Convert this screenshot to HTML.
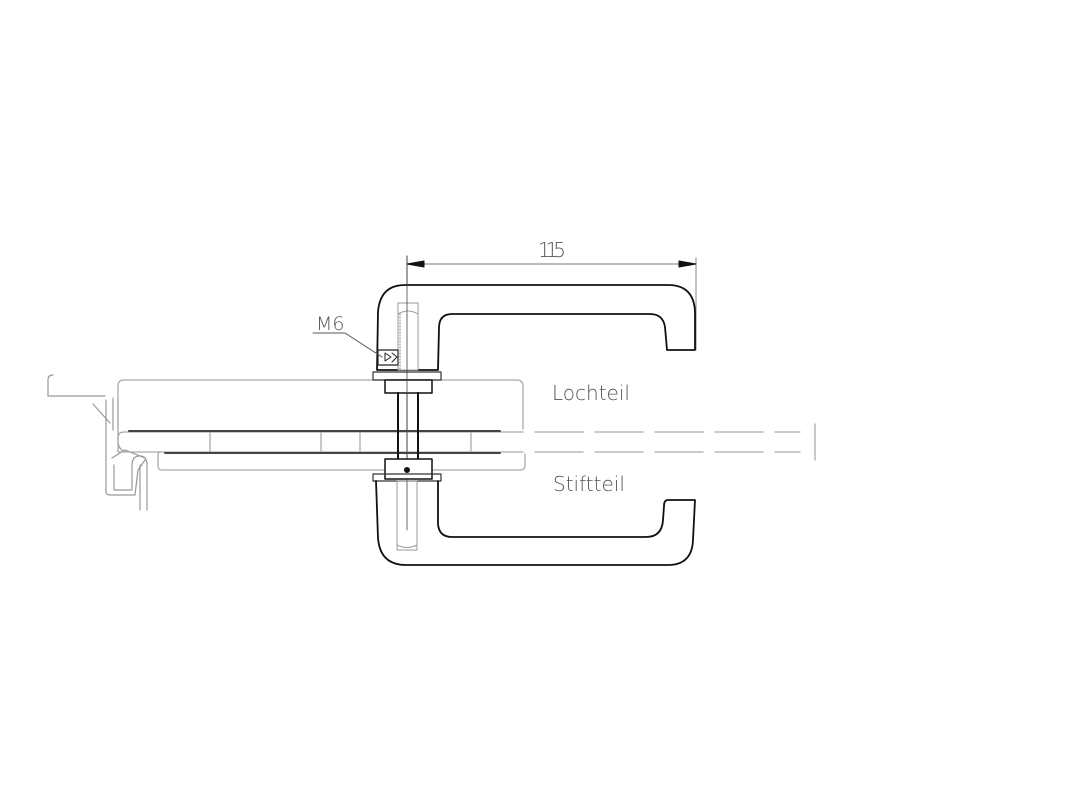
<!DOCTYPE html>
<html><head><style>
html,body{margin:0;padding:0;background:#fff;width:1072px;height:800px;overflow:hidden}
svg{display:block}
text{font-family:"DejaVu Sans","Liberation Sans",sans-serif;font-weight:200;fill:#555}
</style></head><body>
<svg width="1072" height="800" viewBox="0 0 1072 800" xmlns="http://www.w3.org/2000/svg">
<g fill="none" stroke-linecap="round" stroke-linejoin="round">
<line x1="407" y1="256" x2="407" y2="470" stroke="#333" stroke-width="1"/>
<line x1="696" y1="258" x2="696" y2="350" stroke="#888" stroke-width="1"/>
<line x1="407" y1="264" x2="696" y2="264" stroke="#777" stroke-width="1"/>
<path d="M407 264 L424 261 L424 267 Z M696 264 L679 261 L679 267 Z" fill="#111" stroke="#111"/>
<text x="538" y="257" font-size="20" textLength="28">115</text>

<g stroke="#999" stroke-width="1.2">
<path d="M48 396 L48 380 Q48 375 53 375"/>
<path d="M48 396 L105 396"/>
<path d="M113 398 L113 430 M118 398 L118 440 Q118 450 126 452"/>
<path d="M93 404 L110 423"/>
<path d="M106 400 L106 492 Q106 495 110 495 L135 495 L138 470 L145 460"/>
<path d="M112 458 L125 450 L145 458"/>
<path d="M114 465 L114 490 L132 490 L132 465 Q132 456 140 456 Q147 456 147 465 L147 510"/>
<path d="M140 465 L140 510"/>
</g>

<g stroke="#aaa" stroke-width="1.3">
<path d="M118 429 L118 386 Q118 380 124 380 L517 380 Q523 380 523 386 L523 429"/>
<path d="M118 452 L118 438 Q118 432 124 432 L800 432"/>
<line x1="118" y1="452" x2="800" y2="452"/>
<path d="M160 452 Q158 452 158 456 L158 466 Q158 470 162 470 L520 470 Q525 470 525 465 L525 452"/>
<line x1="210" y1="432" x2="210" y2="452"/>
<line x1="321" y1="432" x2="321" y2="452"/>
<line x1="360" y1="432" x2="360" y2="452"/>
<line x1="471" y1="432" x2="471" y2="452"/>
<line x1="815" y1="424" x2="815" y2="460"/>
</g>
<line x1="129" y1="431" x2="500" y2="431" stroke="#444" stroke-width="2"/>
<line x1="165" y1="453" x2="500" y2="453" stroke="#444" stroke-width="2"/>
<g stroke="#fff" stroke-width="3" stroke-dasharray="8 52">
<line x1="525" y1="432" x2="800" y2="432"/>
<line x1="525" y1="452" x2="800" y2="452"/>
</g>

<path d="M377 370 L378 312 Q380 285 405 285 L668 285 Q694 285 695 312 L695 350 L667 350 L665 327 Q663 314 650 314 L452 314 Q439 314 439 328 L438 370 Z" stroke="#111" stroke-width="1.8" fill="#fff"/>
<rect x="398" y="303" width="20" height="67" stroke="#999" stroke-width="1" fill="#fff"/>
<path d="M398 314 Q408 308 418 314" stroke="#999"/>
<line x1="400" y1="314" x2="400" y2="370" stroke="#777" stroke-dasharray="1 2"/>
<rect x="378" y="350" width="20" height="15" stroke="#222" stroke-width="1.2" fill="#fff"/>
<path d="M385 353 L391 357 L385 361 Z M392 353 L397 357 L392 362" stroke="#222"/>
<rect x="373" y="372" width="68" height="8" stroke="#333" stroke-width="1.2" fill="#fff"/>
<rect x="385" y="380" width="47" height="13" stroke="#111" stroke-width="1.5" fill="#fff"/>
<line x1="398" y1="393" x2="398" y2="460" stroke="#111" stroke-width="2"/>
<line x1="418" y1="393" x2="418" y2="460" stroke="#111" stroke-width="2"/>
<line x1="407" y1="256" x2="407" y2="530" stroke="#444" stroke-width="0.8"/>

<rect x="385" y="459" width="47" height="20" stroke="#111" stroke-width="1.5" fill="#fff"/>
<circle cx="407" cy="470" r="2.5" fill="#111" stroke="#111"/>
<rect x="373" y="474" width="68" height="7" stroke="#333" stroke-width="1.2" fill="none"/>
<path d="M376 481 L378 538 Q380 565 406 565 L668 565 Q692 565 693 540 L695 500 L668 500 Q664 500 664 506 L663 520 Q662 537 646 537 L452 537 Q439 537 438 524 L438 481" stroke="#111" stroke-width="1.8"/>
<rect x="397" y="481" width="20" height="69" stroke="#999" stroke-width="1"/>
<path d="M397 545 Q407 550 417 545" stroke="#999"/>

<path d="M313 333 L345 333 L382 357" stroke="#555" stroke-width="1"/>
</g>
<text x="316" y="330" font-size="19">M6</text>
<text x="552" y="400" font-size="20">Lochteil</text>
<text x="553" y="491" font-size="20">Stiftteil</text>
</svg>
</body></html>
